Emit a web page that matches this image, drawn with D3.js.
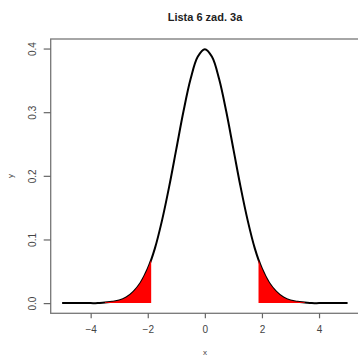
<!DOCTYPE html>
<html>
<head>
<meta charset="utf-8">
<script src="https://cdn.jsdelivr.net/npm/d3@7"></script>
<style>
  html, body { margin: 0; padding: 0; background: #fff; }
  svg { display: block; font-family: "Liberation Sans", Arial, sans-serif; }
</style>
</head>
<body>
<svg id="chart" width="358" height="356"></svg>
<script>
// Density curve values
const curveX = [-5, -4.75, -4.5, -4.25, -4, -3.75, -3.5, -3.25, -3, -2.75, -2.5, -2.25, -2, -1.75, -1.5, -1.25, -1, -0.75, -0.5, -0.25,
  0, 0.25, 0.5, 0.75, 1, 1.25, 1.5, 1.75, 2, 2.25, 2.5, 2.75, 3, 3.25, 3.5, 3.75, 4, 4.25, 4.5, 4.75, 5];
const curveY = [0, 0, 0, 0, 0, 0, 0.001, 0.002, 0.004, 0.009, 0.018, 0.032, 0.054, 0.086, 0.130, 0.183, 0.242, 0.301, 0.352, 0.387,
  0.399, 0.387, 0.352, 0.301, 0.242, 0.183, 0.130, 0.086, 0.054, 0.032, 0.018, 0.009, 0.004, 0.002, 0.001, 0, 0, 0, 0, 0, 0];

// Shaded tails
const leftTailX  = [-3.5, -3.25, -3, -2.75, -2.5, -2.25, -2, -1.88];
const leftTailY  = [0.001, 0.002, 0.004, 0.009, 0.018, 0.032, 0.054, 0.068];
const rightTailX = [1.88, 2, 2.25, 2.5, 2.75, 3, 3.25, 3.5];
const rightTailY = [0.068, 0.054, 0.032, 0.018, 0.009, 0.004, 0.002, 0.001];

const xTicks = [-4, -2, 0, 2, 4];
const yTicks = [0.0, 0.1, 0.2, 0.3, 0.4];
const title = 'Lista 6 zad. 3a';

const svg = d3.select('#chart');
const box = { left: 50.7, right: 359, top: 39, bottom: 313.3 };

const x = d3.scaleLinear().domain([-5.4, 5.4]).range([box.left, box.right]);
const y = d3.scaleLinear().domain([-0.016, 0.415]).range([box.bottom, box.top]);

const curve = curveX.map((v, i) => ({ x: v, y: curveY[i] }));
const line = d3.line().x(d => x(d.x)).y(d => y(d.y)).curve(d3.curveCatmullRom);

svg.append('path').datum(curve)
  .attr('fill', 'none')
  .attr('stroke', '#000')
  .attr('stroke-width', 2)
  .attr('d', line);

// Red tails, drawn over the curve like R's polygon()
function tail(xs, ys) {
  const pts = xs.map((v, i) => ({ x: v, y: ys[i] }));
  const area = d3.area()
    .x(d => x(d.x))
    .y0(y(0))
    .y1(d => y(d.y))
    .curve(d3.curveCatmullRom);
  svg.append('path').datum(pts)
    .attr('fill', '#ff0000')
    .attr('d', area);
}
tail(leftTailX, leftTailY);
tail(rightTailX, rightTailY);

// Box
svg.append('rect')
  .attr('x', box.left).attr('y', box.top)
  .attr('width', box.right - box.left).attr('height', box.bottom - box.top)
  .attr('fill', 'none')
  .attr('stroke', '#777')
  .attr('stroke-width', 1.3);

// Axes
const xAxis = svg.append('g')
  .attr('transform', `translate(0,${box.bottom})`)
  .call(d3.axisBottom(x).tickValues(xTicks).tickSize(5).tickPadding(8).tickFormat(d3.format('d')));
xAxis.select('.domain').remove();

const yAxis = svg.append('g')
  .attr('transform', `translate(${box.left},0)`)
  .call(d3.axisLeft(y).tickValues(yTicks).tickSize(7).tickFormat(d3.format('.1f')));
yAxis.select('.domain').remove();
// R draws the y tick labels parallel to the axis
yAxis.selectAll('text')
  .attr('transform', 'translate(-18,0) rotate(-90)')
  .attr('x', 0).attr('y', 0).attr('dy', '0.35em')
  .style('text-anchor', 'middle');

svg.selectAll('.tick line').attr('stroke', '#666').attr('stroke-width', 1.2);
svg.selectAll('.tick text')
  .attr('fill', '#444')
  .attr('font-size', '10px')
  .attr('font-family', '"Liberation Sans", Arial, sans-serif');

// Labels
svg.append('text')
  .attr('x', 205).attr('y', 21)
  .attr('text-anchor', 'middle')
  .attr('font-size', '11px')
  .attr('font-weight', 'bold')
  .attr('fill', '#222')
  .text(title);

svg.append('text')
  .attr('x', 205).attr('y', 355)
  .attr('text-anchor', 'middle')
  .attr('font-size', '8px')
  .attr('fill', '#444')
  .text('x');

svg.append('text')
  .attr('transform', `translate(13,176) rotate(-90)`)
  .attr('text-anchor', 'middle')
  .attr('font-size', '8px')
  .attr('fill', '#444')
  .text('y');
</script>
</body>
</html>
